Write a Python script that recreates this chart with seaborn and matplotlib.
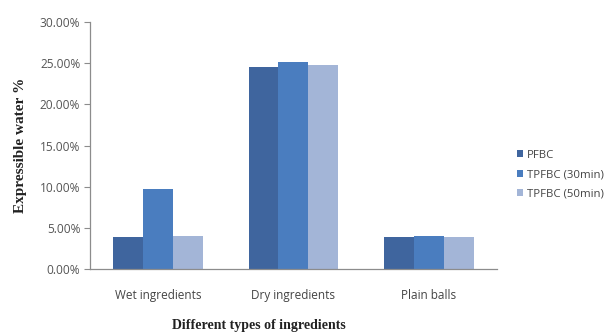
import matplotlib
matplotlib.use("Agg")
import matplotlib.pyplot as plt
import matplotlib.ticker as mticker
import seaborn as sns
import pandas as pd

# Expressible water (%) per ingredient type and frying treatment
categories = ["Wet ingredients", "Dry ingredients", "Plain balls"]
series = ["PFBC", "TPFBC (30min)", "TPFBC (50min)"]
pfbc = [3.9, 24.5, 3.9]
tpfbc_30 = [9.7, 25.1, 4.0]
tpfbc_50 = [4.0, 24.8, 3.9]
y_ticks = [0, 5, 10, 15, 20, 25, 30]

colors = ["#3F659E", "#4A7DBF", "#A3B5D7"]

rows = []
for name, vals in zip(series, [pfbc, tpfbc_30, tpfbc_50]):
    for cat, v in zip(categories, vals):
        rows.append({"Ingredient": cat, "Treatment": name, "Water": v})
df = pd.DataFrame(rows)

sns.set_theme(style="white")
plt.rcParams["font.family"] = ["Open Sans", "DejaVu Sans"]

fig = plt.figure(figsize=(6.08, 3.33), dpi=100)
ax = fig.add_axes([0.148, 0.192, 0.669, 0.742])

sns.barplot(data=df, x="Ingredient", y="Water", hue="Treatment",
            order=categories, hue_order=series, palette=colors,
            width=0.66, gap=0, saturation=1, errorbar=None, ax=ax,
            linewidth=0)

ax.set_xlim(-0.5, 2.5)
ax.set_ylim(0, 30)
ax.set_yticks(y_ticks)
ax.yaxis.set_major_formatter(mticker.FuncFormatter(lambda v, p: f"{v:.2f}%"))

for s in ["top", "right"]:
    ax.spines[s].set_visible(False)
for s in ["left", "bottom"]:
    ax.spines[s].set_color("#8C8C8C")
    ax.spines[s].set_linewidth(0.9)

ax.tick_params(axis="y", which="both", left=True, length=4, width=0.8,
               color="#8C8C8C", labelsize=8.6, labelcolor="#555555", pad=3)
ax.tick_params(axis="x", bottom=False, labelsize=8.5, labelcolor="#444444", pad=8)

ax.set_xlabel("")
ax.set_ylabel("Expressible water %", family=["Liberation Serif"],
              fontweight="bold", fontsize=11, color="#222222", labelpad=9)

fig.text(259 / 608, 1 - 325 / 333, "Different types of ingredients",
         family=["Liberation Serif"], fontweight="bold", fontsize=10,
         color="#222222", ha="center", va="center")

handles, labels = ax.get_legend_handles_labels()
ax.get_legend().remove()
fig.legend(handles, labels, loc="center left",
           bbox_to_anchor=(0.833, 0.475), frameon=False,
           fontsize=8.2, handlelength=0.55, handleheight=0.55,
           handletextpad=0.35, labelspacing=0.75, labelcolor="#444444")

fig.savefig("out.png", dpi=100, facecolor="white")
